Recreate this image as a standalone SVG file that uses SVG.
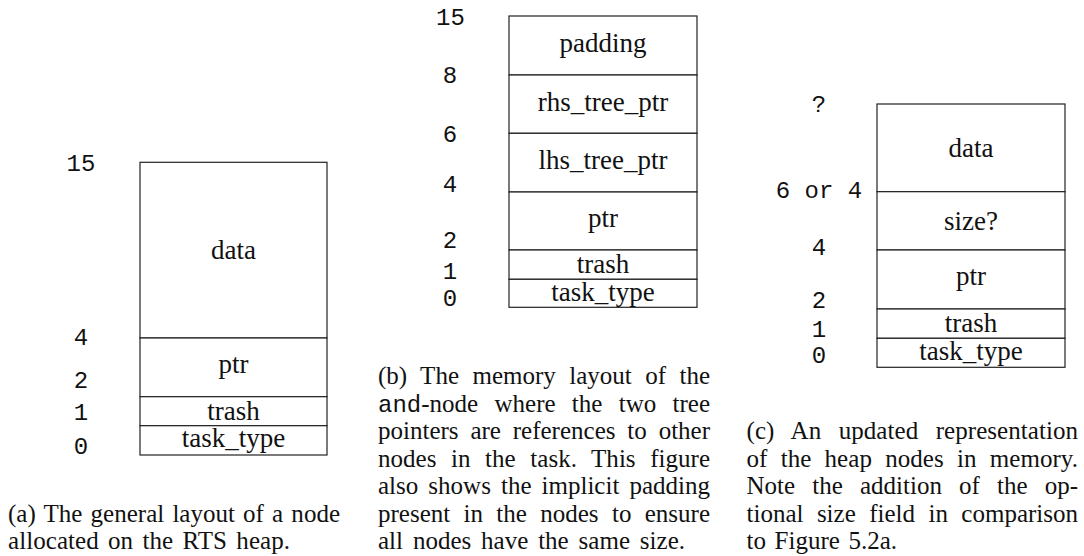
<svg xmlns="http://www.w3.org/2000/svg" width="1084" height="556" viewBox="0 0 1084 556">
<style>
.f{fill:#fff;stroke:#222;stroke-width:1.2}
.l{font-family:"Liberation Serif",serif;font-size:27px;fill:#111;text-anchor:middle}
.n{font-family:"Liberation Mono",monospace;font-size:24px;fill:#111;text-anchor:middle}
.c{font-family:"Liberation Serif",serif;font-size:25px;fill:#111}
.m{font-family:"Liberation Mono",monospace;font-size:24px}
</style>
<rect width="1084" height="556" fill="#fff"/>

<g id="panel-a">
  <g id="a-data"><rect class="f" x="140" y="162.3" width="187" height="175.7"/><text class="l" x="233.5" y="259">data</text></g>
  <g id="a-ptr"><rect class="f" x="140" y="338" width="187" height="58.7"/><text class="l" x="233.5" y="373">ptr</text></g>
  <g id="a-trash"><rect class="f" x="140" y="396.7" width="187" height="29"/><text class="l" x="233.5" y="419.5">trash</text></g>
  <g id="a-task"><rect class="f" x="140" y="425.7" width="187" height="29.3"/><text class="l" x="233.5" y="447">task_type</text></g>
  <g id="a-labels">
    <text class="n" x="81" y="170.7">15</text>
    <text class="n" x="81" y="345">4</text>
    <text class="n" x="81" y="388">2</text>
    <text class="n" x="81" y="420">1</text>
    <text class="n" x="81" y="454">0</text>
  </g>
  <g id="a-caption">
    <text class="c" x="8" y="521.5" word-spacing="1.9" textLength="332" lengthAdjust="spacing">(a) The general layout of a node</text>
    <text class="c" x="8" y="549" word-spacing="3" textLength="282" lengthAdjust="spacing">allocated on the RTS heap.</text>
  </g>
</g>

<g id="panel-b">
  <g id="b-padding"><rect class="f" x="509" y="16" width="188" height="59"/><text class="l" x="603" y="52">padding</text></g>
  <g id="b-rhs"><rect class="f" x="509" y="75" width="188" height="58.3"/><text class="l" x="603" y="110.5">rhs_tree_ptr</text></g>
  <g id="b-lhs"><rect class="f" x="509" y="133.3" width="188" height="58.7"/><text class="l" x="603" y="169">lhs_tree_ptr</text></g>
  <g id="b-ptr"><rect class="f" x="509" y="192" width="188" height="58"/><text class="l" x="603" y="226.5">ptr</text></g>
  <g id="b-trash"><rect class="f" x="509" y="250" width="188" height="29.3"/><text class="l" x="603" y="272.5">trash</text></g>
  <g id="b-task"><rect class="f" x="509" y="279.3" width="188" height="28"/><text class="l" x="603" y="301">task_type</text></g>
  <g id="b-labels">
    <text class="n" x="450.5" y="25">15</text>
    <text class="n" x="450" y="83">8</text>
    <text class="n" x="450" y="141.7">6</text>
    <text class="n" x="450" y="191.7">4</text>
    <text class="n" x="450" y="248">2</text>
    <text class="n" x="450" y="279.3">1</text>
    <text class="n" x="450" y="306">0</text>
  </g>
  <g id="b-caption">
    <text class="c" x="378" y="384" word-spacing="7.1" textLength="332" lengthAdjust="spacing">(b) The memory layout of the</text>
    <text class="c" x="378" y="411.5" word-spacing="10" textLength="332" lengthAdjust="spacing"><tspan class="m">and</tspan>-node where the two tree</text>
    <text class="c" x="378" y="439" word-spacing="5.6" textLength="332" lengthAdjust="spacing">pointers are references to other</text>
    <text class="c" x="378" y="466.5" word-spacing="8.3" textLength="332" lengthAdjust="spacing">nodes in the task. This figure</text>
    <text class="c" x="378" y="494" word-spacing="3.8" textLength="332" lengthAdjust="spacing">also shows the implicit padding</text>
    <text class="c" x="378" y="521.5" word-spacing="7.1" textLength="332" lengthAdjust="spacing">present in the nodes to ensure</text>
    <text class="c" x="378" y="549" word-spacing="3.6" textLength="307" lengthAdjust="spacing">all nodes have the same size.</text>
  </g>
</g>

<g id="panel-c">
  <g id="c-data"><rect class="f" x="877" y="104" width="188" height="87.7"/><text class="l" x="971" y="157">data</text></g>
  <g id="c-size"><rect class="f" x="877" y="191.7" width="188" height="58.3"/><text class="l" x="971" y="230">size?</text></g>
  <g id="c-ptr"><rect class="f" x="877" y="250" width="188" height="59"/><text class="l" x="971" y="285">ptr</text></g>
  <g id="c-trash"><rect class="f" x="877" y="309" width="188" height="29.3"/><text class="l" x="971" y="332">trash</text></g>
  <g id="c-task"><rect class="f" x="877" y="338.3" width="188" height="29"/><text class="l" x="971" y="359.5">task_type</text></g>
  <g id="c-labels">
    <text class="n" x="819" y="111.7">?</text>
    <text class="n" x="819" y="198.3">6 or 4</text>
    <text class="n" x="819" y="255">4</text>
    <text class="n" x="819" y="308">2</text>
    <text class="n" x="819" y="337">1</text>
    <text class="n" x="819" y="363">0</text>
  </g>
  <g id="c-caption">
    <text class="c" x="746.5" y="439" word-spacing="11.2" textLength="331.5" lengthAdjust="spacing">(c) An updated representation</text>
    <text class="c" x="746.5" y="466.5" word-spacing="6.9" textLength="331.5" lengthAdjust="spacing">of the heap nodes in memory.</text>
    <text class="c" x="746.5" y="494" word-spacing="10.9" textLength="331.5" lengthAdjust="spacing">Note the addition of the op-</text>
    <text class="c" x="746.5" y="521.5" word-spacing="7.2" textLength="331.5" lengthAdjust="spacing">tional size field in comparison</text>
    <text class="c" x="746.5" y="549" word-spacing="2.3" textLength="150.5" lengthAdjust="spacing">to Figure 5.2a.</text>
  </g>
</g>
<g id="connectors"/>
</svg>
